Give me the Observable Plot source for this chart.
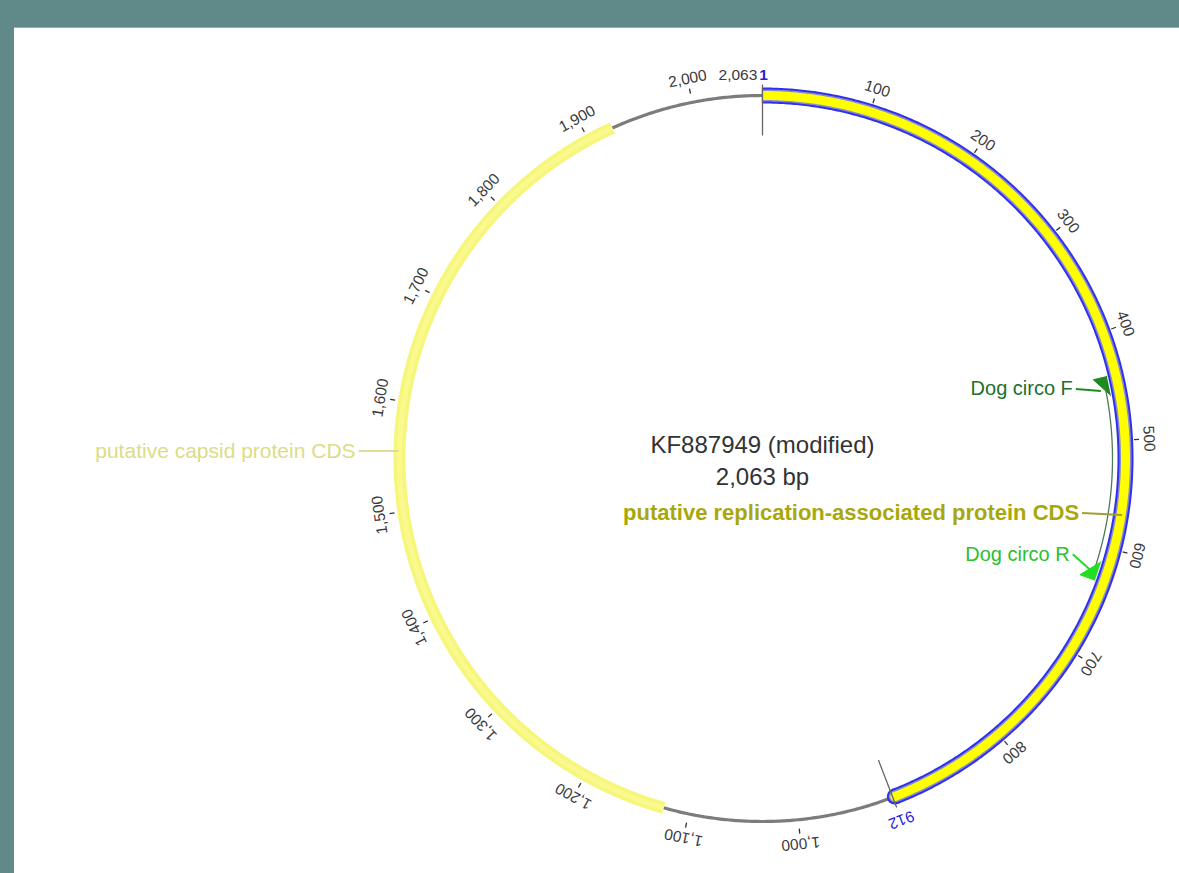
<!DOCTYPE html>
<html><head><meta charset="utf-8">
<script src="https://cdn.jsdelivr.net/npm/d3@7"></script>
<script src="https://cdn.jsdelivr.net/npm/@observablehq/plot@0.6"></script>
<style>
html,body{margin:0;padding:0;background:#5f8a89;width:1179px;height:873px;overflow:hidden}
#edge{position:absolute;left:14px;top:27px;width:1165px;height:1px;background:#8fb0af}
#panel{position:absolute;left:14px;top:28px;width:1165px;height:845px;background:#fff}
#panel svg{display:block}
</style></head><body><div id="edge"></div><div id="panel"></div>
<script>
// ---- data ----
const seqLength = 2063;
const seqName = "KF887949 (modified)";
const seqSize = "2,063 bp";
const featureNames = ["putative replication-associated protein CDS", "putative capsid protein CDS"];
const featureStarts = [1, 1123];
const featureEnds = [912, 1924];
const featureLabelAt = [568, 1555];
const primerNames = ["Dog circo F", "Dog circo R"];
const primerStarts = [440, 614];
const primerEnds = [458, 632];
const primerLabelAt = [452, 625];
const tickPositions = [100, 200, 300, 400, 500, 600, 700, 800, 1000, 1100, 1200, 1300, 1400, 1500, 1600, 1700, 1800, 1900, 2000];
const tickLabels = ["100", "200", "300", "400", "500", "600", "700", "800", "1,000", "1,100", "1,200", "1,300", "1,400", "1,500", "1,600", "1,700", "1,800", "1,900", "2,000"];
const boundaryPositions = [1, 912];
const boundaryLabels = ["1", "912"];
const lengthLabel = "2,063";

// ---- geometry helpers ----
const R = 363;
const font = "'Liberation Sans', Arial, sans-serif";
const angle = pos => (pos - 1) / seqLength * 2 * Math.PI;
const polar = (pos, r) => ({x: r * Math.sin(angle(pos)), y: r * Math.cos(angle(pos))});
const arc = (s, e, r) => {
  const n = Math.max(2, Math.ceil(Math.abs(e - s) / 2));
  return d3.range(n + 1).map(i => polar(s + (e - s) * i / n, r));
};
const deg = pos => angle(pos) * 180 / Math.PI;

// features
const repArc = arc(featureStarts[0], featureEnds[0] - 2, R);
const repOutline = arc(featureStarts[0] - 0.6, featureEnds[0] - 2, R);
const repEnd = [polar(featureEnds[0] - 2, R)];
const capArc = arc(featureStarts[1], featureEnds[1], R);
const backbone = arc(1, seqLength + 1, R);

// primers
const primerShapes = primerNames.flatMap((name, i) => {
  const s = primerStarts[i], e = primerEnds[i];
  const pts = i === 0
    ? [polar(s, R - 9), polar(s, R - 23), polar(e, R - 9)]
    : [polar(e, R - 9), polar(e, R - 25), polar(s, R - 9)];
  return pts.map(p => ({...p, name}));
});
const ampliconArc = arc(primerLabelAt[0], primerLabelAt[1] - 4, R - 13);

// ticks
const ticks = tickPositions.map((p, i) => {
  const a = polar(p, R + 9), b = polar(p, R + 14), t = polar(p, R + 24);
  return {x1: a.x, y1: a.y, x2: b.x, y2: b.y, tx: t.x, ty: t.y, label: tickLabels[i], rot: deg(p)};
});
const boundaryLines = boundaryPositions.map(p => {
  const a = polar(p, R - 40), b = polar(p, R + 11);
  return {x1: a.x, y1: a.y, x2: b.x, y2: b.y};
});
const bLabels = [
  {...polar(boundaryPositions[0] + 1, R + 20), text: boundaryLabels[0], rot: 0, weight: "bold"},
  {...polar(boundaryPositions[1], R + 24), text: boundaryLabels[1], rot: deg(boundaryPositions[1]), weight: "normal"}
];
const lenLab = {...polar(seqLength, R + 20), text: lengthLabel};

// callouts: [pos, radius, line dx, line dy (screen px)]
const callouts = [
  {name: featureNames[0], pos: featureLabelAt[0], r: R + 1, dx: -40, dy: -2, color: "#a8a80c", size: 22, weight: "bold"},
  {name: featureNames[1], pos: featureLabelAt[1], r: R + 1, dx: -40, dy: 0, color: "#dcdc86", size: 21, weight: "normal"},
  {name: primerNames[0], pos: primerLabelAt[0], r: R - 18, dx: -25, dy: -2, color: "#226f2c", size: 20, weight: "normal"},
  {name: primerNames[1], pos: primerLabelAt[1], r: R - 15, dx: -19, dy: -17, color: "#2ec02e", size: 20, weight: "normal"}
].map(c => {
  const p = polar(c.pos, c.r);
  return {...c, x1: p.x, y1: p.y, x2: p.x + c.dx, y2: p.y - c.dy};
});

const plot = Plot.plot({
  width: 1165, height: 845,
  margin: 0,
  x: {domain: [-748, 417], axis: null},
  y: {domain: [-415, 430], axis: null},
  style: {fontFamily: font, background: "#fff"},
  marks: [
    Plot.line(backbone, {x: "x", y: "y", stroke: "#7c7c7c", strokeWidth: 3.2}),
    Plot.line(capArc, {x: "x", y: "y", stroke: "#f6f67a", strokeWidth: 12, strokeLinecap: "butt"}),
    Plot.line(capArc, {x: "x", y: "y", stroke: "#f9f98e", strokeWidth: 5, strokeLinecap: "butt"}),
    Plot.dot(repEnd, {x: "x", y: "y", r: 8, fill: "#2f2ff0", stroke: "none"}),
    Plot.line(repOutline, {x: "x", y: "y", stroke: "#2f2ff0", strokeWidth: 16, strokeLinecap: "butt"}),
    Plot.dot(repEnd, {x: "x", y: "y", r: 6, fill: "#8a8ad0", stroke: "none"}),
    Plot.line(repArc, {x: "x", y: "y", stroke: "#8a8ad0", strokeWidth: 12, strokeLinecap: "butt"}),
    Plot.dot(repEnd, {x: "x", y: "y", r: 4.5, fill: "#ffff00", stroke: "none"}),
    Plot.line(repArc, {x: "x", y: "y", stroke: "#ffff00", strokeWidth: 9, strokeLinecap: "butt"}),
    Plot.line(ampliconArc, {x: "x", y: "y", stroke: "#4f7a55", strokeWidth: 1.3}),
    Plot.line(primerShapes, {x: "x", y: "y", z: "name", fill: d => d.name, stroke: d => d.name, strokeWidth: 1}),
    Plot.link(ticks, {x1: "x1", y1: "y1", x2: "x2", y2: "y2", stroke: "#333", strokeWidth: 1.3}),
    Plot.text(ticks, {x: "tx", y: "ty", text: "label", rotate: "rot", fill: "#3a3a3a", fontSize: 15.5, lineAnchor: "middle"}),
    Plot.link(boundaryLines, {x1: "x1", y1: "y1", x2: "x2", y2: "y2", stroke: "#666", strokeWidth: 1.3}),
    ...bLabels.map(b => Plot.text([b], {x: "x", y: "y", text: "text", rotate: "rot", textAnchor: "middle", fill: "#2424dd", fontSize: 15.5, fontWeight: b.weight, lineAnchor: "middle"})),
    Plot.text([lenLab], {x: "x", y: "y", text: "text", textAnchor: "end", dx: -4, fill: "#3a3a3a", fontSize: 15.5, lineAnchor: "middle"}),
    Plot.link(callouts, {x1: "x1", y1: "y1", x2: "x2", y2: "y2", stroke: d => d.name, strokeWidth: 2}),
    ...callouts.map(c => Plot.text([c], {x: "x2", y: "y2", text: "name", textAnchor: "end", dx: -3, fill: c.color, fontSize: c.size, fontWeight: c.weight, lineAnchor: "middle"})),
    Plot.text([seqName], {x: 0, y: 0, text: d => d, dy: -13, fill: "#333", fontSize: 24, lineAnchor: "middle"}),
    Plot.text([seqSize], {x: 0, y: 0, text: d => d, dy: 19, fill: "#333", fontSize: 24, lineAnchor: "middle"})
  ],
  color: {
    domain: [...primerNames, ...featureNames],
    range: ["#1f8a22", "#22dd22", "#a0a030", "#dcdc96"]
  }
});
document.getElementById("panel").appendChild(plot);
</script>
</body></html>
